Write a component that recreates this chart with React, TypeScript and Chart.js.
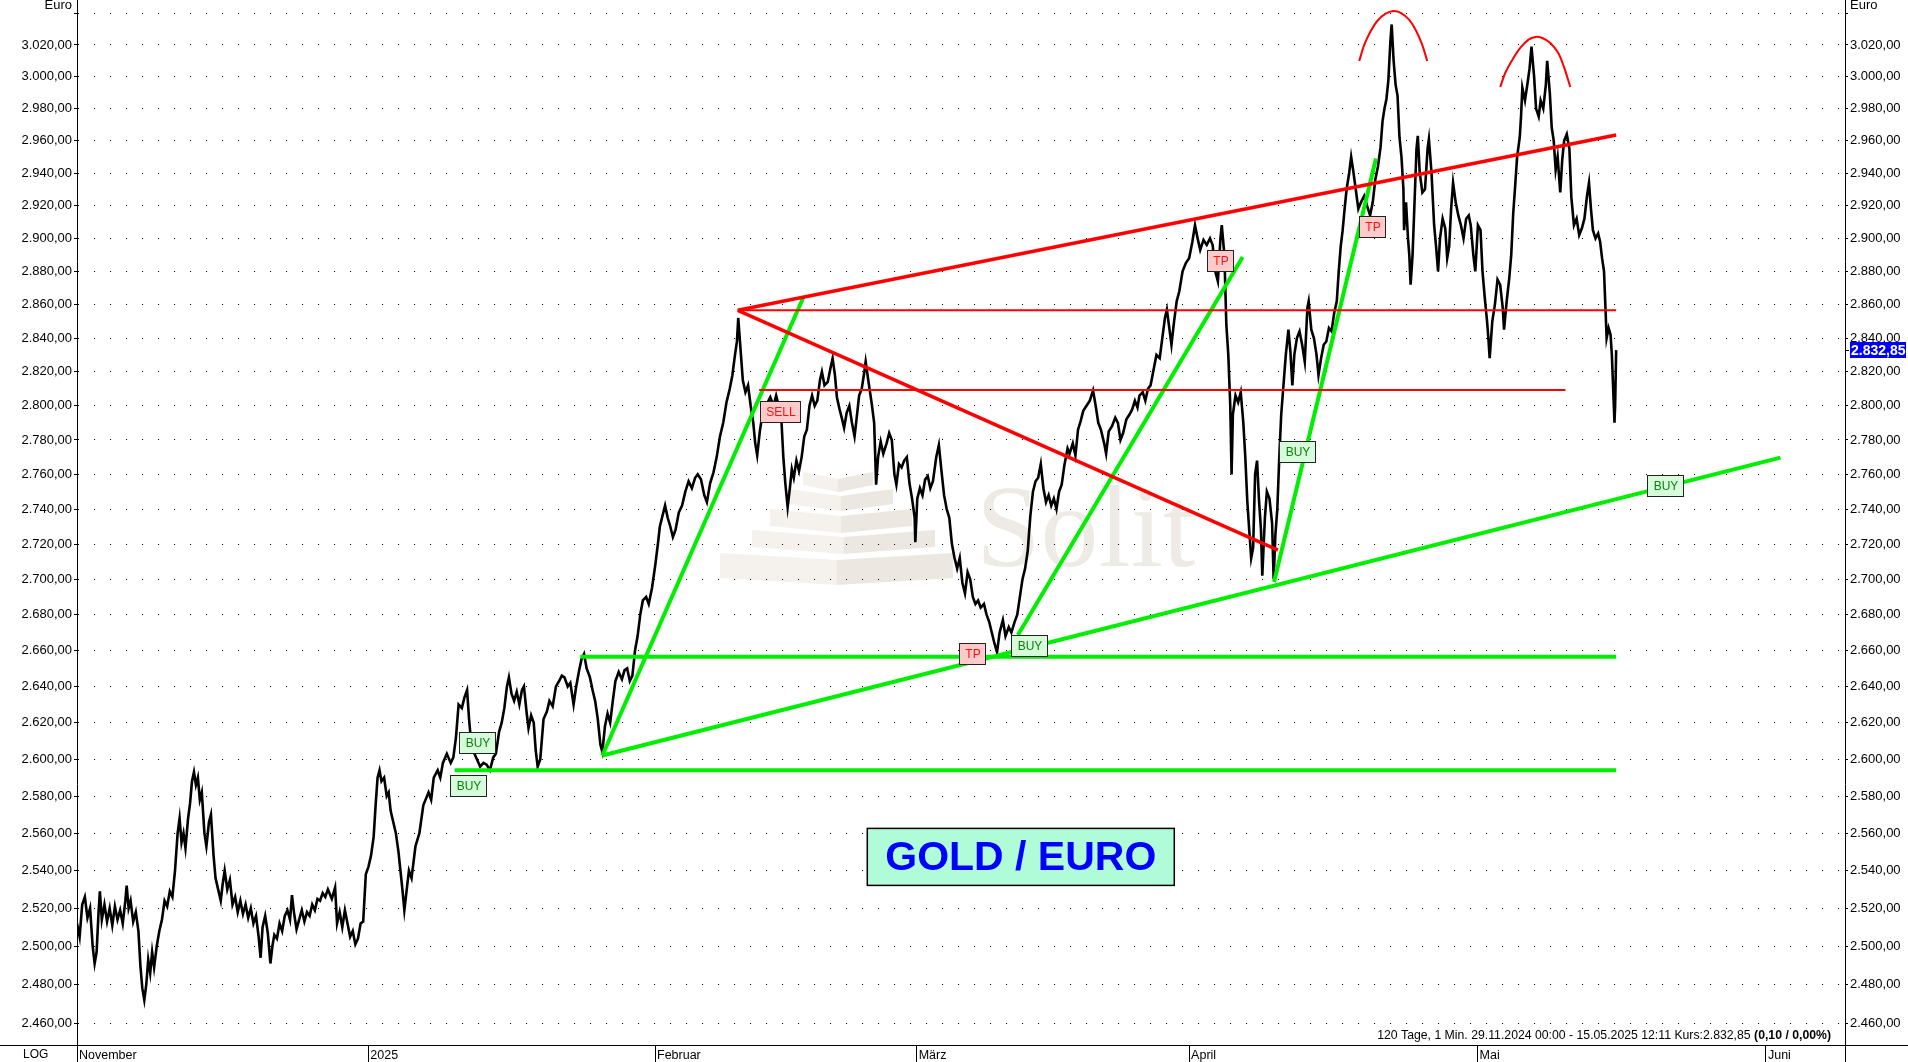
import React, { useEffect, useRef } from 'react';
import { Chart, registerables } from 'chart.js';

Chart.register(...registerables);

// ---------- axis data ----------
const X_MAX = 135.29; // trading days shown (29.11.2024 .. ~10.06.2025)
const Y_MIN = 2448.8;
const Y_MAX = 3048.6;
const monthTickDays = [0, 22.29, 44.23, 64.25, 85.1, 107.17, 129.24, 135.29];
const monthLabels = ['November', '2025', 'Februar', 'März', 'April', 'Mai', 'Juni', ''];
const yTickValues = [2460, 2480, 2500, 2520, 2540, 2560, 2580, 2600, 2620, 2640, 2660, 2680, 2700, 2720, 2740, 2760, 2780, 2800, 2820, 2840, 2860, 2880, 2900, 2920, 2940, 2960, 2980, 3000, 3020, 3040];
const LAST_PRICE = 2832.85;

// ---------- price series: [trading day, price] ----------
const seriesDec = [
  [0.0, 2512], [0.2, 2505], [0.4, 2522], [0.6, 2526], [0.8, 2515], [1.0, 2520], [1.2, 2500], [1.35, 2491], [1.5, 2497], [1.65, 2518],
  [1.75, 2529], [1.9, 2514], [2.1, 2522], [2.3, 2513], [2.5, 2520], [2.7, 2511], [2.9, 2521], [3.1, 2514], [3.3, 2519], [3.5, 2512],
  [3.7, 2524], [3.8, 2532], [3.95, 2520], [4.1, 2524], [4.3, 2513], [4.5, 2518], [4.7, 2508], [4.85, 2490], [5.0, 2478], [5.15, 2472],
  [5.3, 2480], [5.45, 2493], [5.6, 2486], [5.75, 2497], [5.9, 2489], [6.1, 2500], [6.3, 2508], [6.5, 2514], [6.7, 2524], [6.9, 2521],
  [7.1, 2529], [7.3, 2526], [7.5, 2540], [7.7, 2560], [7.85, 2568], [8.0, 2555], [8.15, 2560], [8.3, 2552], [8.5, 2568], [8.65, 2576],
  [8.8, 2588], [8.95, 2593], [9.1, 2586], [9.25, 2590], [9.4, 2578], [9.55, 2582], [9.75, 2560], [9.9, 2553], [10.1, 2566], [10.25, 2570],
  [10.45, 2548], [10.6, 2536], [10.8, 2530], [11.0, 2524], [11.15, 2533], [11.3, 2540], [11.5, 2530], [11.7, 2535], [11.9, 2522], [12.1, 2526],
  [12.3, 2518], [12.5, 2524], [12.7, 2517], [12.9, 2522], [13.1, 2515], [13.3, 2520], [13.5, 2512], [13.7, 2516], [13.9, 2505], [14.05, 2494],
  [14.2, 2510], [14.4, 2516], [14.6, 2507], [14.8, 2491], [14.95, 2500], [15.1, 2506], [15.3, 2504], [15.5, 2512], [15.7, 2508], [15.9, 2516],
  [16.1, 2519], [16.3, 2514], [16.45, 2527], [16.6, 2518], [16.8, 2509], [17.0, 2514], [17.2, 2519], [17.4, 2513], [17.6, 2518], [17.8, 2516],
  [18.0, 2522], [18.2, 2519], [18.4, 2525], [18.6, 2524], [18.8, 2528], [19.0, 2526], [19.2, 2530], [19.5, 2525], [19.75, 2531], [19.9, 2512],
  [20.1, 2518], [20.3, 2510], [20.5, 2519], [20.7, 2512], [20.9, 2505], [21.1, 2508], [21.3, 2501], [21.5, 2504], [21.7, 2512], [21.9, 2513],
  [22.1, 2538],
];
const seriesJan = [
  [22.3, 2542], [22.5, 2548], [22.7, 2558], [22.85, 2575], [23.0, 2590], [23.15, 2594], [23.3, 2588], [23.5, 2590], [23.7, 2580], [23.85, 2582],
  [24.0, 2572], [24.2, 2566], [24.4, 2560], [24.6, 2550], [24.75, 2540], [24.9, 2530], [25.05, 2519], [25.2, 2528], [25.4, 2540], [25.6, 2536],
  [25.9, 2553], [26.2, 2560], [26.5, 2575], [26.9, 2582], [27.1, 2578], [27.3, 2590], [27.6, 2594], [27.8, 2590], [28.0, 2598], [28.3, 2603],
  [28.6, 2598], [28.8, 2601], [29.0, 2612], [29.2, 2630], [29.45, 2628], [29.65, 2634], [29.85, 2638], [30.0, 2622], [30.15, 2610], [30.35, 2604],
  [30.6, 2600], [30.85, 2596], [31.1, 2598], [31.35, 2597], [31.6, 2594], [31.85, 2601], [32.05, 2603], [32.3, 2615], [32.5, 2620], [32.7, 2628],
  [32.9, 2640], [33.05, 2645], [33.25, 2636], [33.45, 2632], [33.65, 2637], [33.85, 2630], [34.05, 2638], [34.2, 2640], [34.4, 2626], [34.55, 2617],
  [34.75, 2624], [34.95, 2620], [35.1, 2605], [35.25, 2596], [35.45, 2600], [35.7, 2622], [35.95, 2626], [36.15, 2632], [36.4, 2629], [36.65, 2640],
  [36.9, 2643], [37.1, 2646], [37.3, 2645], [37.55, 2640], [37.75, 2642], [38.0, 2630], [38.2, 2640], [38.4, 2648], [38.6, 2655], [38.8, 2658],
  [39.0, 2650], [39.25, 2645], [39.45, 2638], [39.65, 2632], [39.85, 2622], [40.05, 2608], [40.2, 2604], [40.4, 2618], [40.6, 2625], [40.8, 2620],
  [41.0, 2632], [41.2, 2643], [41.45, 2648], [41.7, 2644], [41.9, 2649], [42.1, 2650], [42.3, 2643], [42.5, 2646], [42.7, 2660], [42.9, 2668],
  [43.1, 2680], [43.3, 2688], [43.55, 2690], [43.75, 2686], [44.0, 2695],
];
const seriesFeb = [
  [44.25, 2708], [44.45, 2720], [44.6, 2730], [44.8, 2736], [45.0, 2742], [45.2, 2735], [45.4, 2730], [45.6, 2724], [45.8, 2728], [46.05, 2738],
  [46.3, 2742], [46.55, 2750], [46.8, 2756], [47.05, 2752], [47.3, 2758], [47.5, 2760], [47.75, 2757], [48.0, 2748], [48.2, 2744], [48.45, 2755],
  [48.7, 2761], [48.95, 2770], [49.2, 2782], [49.45, 2790], [49.7, 2802], [49.95, 2810], [50.15, 2818], [50.35, 2830], [50.5, 2838], [50.6, 2852],
  [50.75, 2836], [50.95, 2815], [51.15, 2808], [51.35, 2812], [51.55, 2800], [51.75, 2790], [51.9, 2778], [52.05, 2771], [52.25, 2785], [52.45, 2795],
  [52.65, 2792], [52.85, 2802], [53.05, 2805], [53.3, 2800], [53.5, 2806], [53.7, 2800], [53.9, 2792], [54.05, 2770], [54.2, 2755], [54.38, 2741],
  [54.55, 2752], [54.7, 2763], [54.85, 2758], [55.05, 2768], [55.25, 2762], [55.45, 2770], [55.65, 2782], [55.85, 2786], [56.05, 2800], [56.25, 2806],
  [56.45, 2800], [56.65, 2803], [56.85, 2815], [57.0, 2820], [57.2, 2812], [57.45, 2814], [57.65, 2822], [57.82, 2828], [58.0, 2818], [58.15, 2805],
  [58.35, 2798], [58.55, 2792], [58.7, 2787], [58.9, 2796], [59.1, 2800], [59.3, 2790], [59.5, 2782], [59.65, 2792], [59.85, 2806], [60.05, 2810],
  [60.25, 2820], [60.35, 2826], [60.55, 2815], [60.8, 2802], [61.0, 2790], [61.15, 2754], [61.3, 2770], [61.5, 2779], [61.7, 2772], [61.95, 2778],
  [62.15, 2784], [62.35, 2780], [62.55, 2760], [62.7, 2754], [62.9, 2766], [63.1, 2764], [63.3, 2768], [63.5, 2770], [63.7, 2755], [63.9, 2746],
  [64.1, 2735], [64.15, 2721],
];
const seriesMar = [
  [64.3, 2746], [64.5, 2752], [64.7, 2748], [64.9, 2757], [65.1, 2759], [65.3, 2752], [65.5, 2756], [65.75, 2770], [65.95, 2777], [66.15, 2762],
  [66.35, 2748], [66.55, 2740], [66.75, 2735], [66.95, 2720], [67.15, 2712], [67.35, 2706], [67.55, 2712], [67.75, 2698], [67.95, 2692], [68.15, 2704],
  [68.35, 2700], [68.55, 2690], [68.75, 2686], [68.95, 2688], [69.15, 2684], [69.4, 2686], [69.6, 2680], [69.8, 2676], [70.0, 2670], [70.2, 2664],
  [70.4, 2659], [70.6, 2670], [70.85, 2677], [71.05, 2668], [71.3, 2673], [71.5, 2670], [71.75, 2676], [71.95, 2680], [72.15, 2690], [72.35, 2700],
  [72.55, 2706], [72.75, 2716], [72.95, 2736], [73.15, 2750], [73.35, 2756], [73.55, 2758], [73.75, 2766], [73.95, 2752], [74.15, 2744], [74.35, 2748],
  [74.55, 2742], [74.75, 2746], [74.95, 2740], [75.15, 2750], [75.35, 2754], [75.55, 2765], [75.8, 2775], [75.95, 2772], [76.2, 2778], [76.4, 2771],
  [76.6, 2786], [76.8, 2791], [77.0, 2797], [77.25, 2800], [77.5, 2803], [77.75, 2809], [77.95, 2800], [78.15, 2790], [78.35, 2786], [78.6, 2778],
  [78.75, 2772], [78.95, 2785], [79.2, 2788], [79.45, 2793], [79.65, 2790], [79.85, 2780], [80.05, 2784], [80.3, 2792], [80.55, 2795], [80.75, 2798],
  [80.95, 2803], [81.15, 2799], [81.3, 2806], [81.55, 2808], [81.75, 2803], [81.95, 2810], [82.15, 2812], [82.4, 2822], [82.6, 2830], [82.85, 2828],
  [83.05, 2840], [83.25, 2852], [83.4, 2857], [83.6, 2845], [83.75, 2836], [83.95, 2850], [84.15, 2862], [84.35, 2868], [84.6, 2880], [84.85, 2885],
];
const seriesApr = [
  [85.1, 2888], [85.35, 2898], [85.55, 2908], [85.75, 2900], [85.95, 2893], [86.2, 2899], [86.45, 2896], [86.7, 2900], [86.9, 2896], [87.1, 2880],
  [87.3, 2874], [87.5, 2900], [87.6, 2908], [87.8, 2890], [87.95, 2848], [88.1, 2830], [88.25, 2800], [88.35, 2760], [88.45, 2795], [88.65, 2806],
  [88.85, 2802], [89.05, 2808], [89.25, 2790], [89.4, 2770], [89.55, 2745], [89.7, 2728], [89.85, 2712], [90.0, 2718], [90.15, 2760], [90.3, 2768],
  [90.45, 2745], [90.6, 2728], [90.7, 2702], [90.9, 2735], [91.05, 2750], [91.25, 2746], [91.45, 2732], [91.57, 2700], [91.7, 2725], [91.85, 2740],
  [92.0, 2770], [92.15, 2795], [92.3, 2810], [92.5, 2830], [92.7, 2845], [92.85, 2832], [93.0, 2812], [93.15, 2830], [93.35, 2840], [93.55, 2844],
  [93.75, 2836], [93.95, 2826], [94.15, 2858], [94.25, 2862], [94.45, 2845], [94.65, 2840], [94.85, 2830], [95.0, 2818], [95.2, 2828], [95.4, 2836],
  [95.6, 2838], [95.8, 2846], [96.0, 2844], [96.2, 2855], [96.4, 2862], [96.55, 2880], [96.7, 2895], [96.85, 2905], [97.0, 2918], [97.15, 2930],
  [97.35, 2940], [97.5, 2950], [97.65, 2942], [97.85, 2930], [98.05, 2918], [98.25, 2922], [98.5, 2926], [98.75, 2919], [98.95, 2914], [99.15, 2922],
  [99.35, 2936], [99.55, 2944], [99.75, 2956], [99.9, 2972], [100.05, 2980], [100.2, 2986], [100.35, 2998], [100.5, 3022], [100.6, 3033], [100.75, 3010],
  [100.9, 2995], [101.05, 2988], [101.2, 2962], [101.35, 2950], [101.5, 2930], [101.55, 2905], [101.7, 2922], [101.85, 2900], [101.95, 2890], [102.05, 2872],
  [102.2, 2890], [102.35, 2922], [102.5, 2955], [102.6, 2963], [102.75, 2940], [102.95, 2928], [103.15, 2930], [103.35, 2955], [103.45, 2961], [103.65, 2940],
  [103.85, 2908], [104.0, 2895], [104.15, 2880], [104.3, 2900], [104.5, 2912], [104.7, 2906], [104.85, 2888], [105.0, 2895], [105.15, 2918], [105.3, 2934],
  [105.5, 2922], [105.7, 2914], [105.9, 2908], [106.1, 2900], [106.3, 2912], [106.5, 2914], [106.65, 2908], [106.85, 2890], [107.0, 2880],
];
const seriesMay = [
  [107.2, 2908], [107.4, 2905], [107.55, 2880], [107.75, 2862], [107.9, 2850], [108.0, 2840], [108.1, 2828], [108.3, 2850], [108.5, 2860], [108.7, 2875],
  [108.9, 2872], [109.1, 2858], [109.2, 2845], [109.4, 2862], [109.6, 2876], [109.75, 2890], [109.9, 2915], [110.05, 2932], [110.2, 2950], [110.4, 2962],
  [110.5, 2975], [110.6, 2993], [110.8, 2985], [111.0, 2996], [111.15, 3005], [111.3, 3019], [111.5, 3000], [111.65, 2980], [111.85, 2975], [112.0, 2985],
  [112.2, 2980], [112.4, 2995], [112.5, 3010], [112.7, 2990], [112.85, 2968], [113.0, 2960], [113.15, 2942], [113.3, 2950], [113.5, 2928], [113.65, 2948],
  [113.8, 2960], [114.0, 2964], [114.2, 2955], [114.35, 2925], [114.55, 2908], [114.75, 2912], [114.95, 2902], [115.15, 2906], [115.35, 2912], [115.55, 2926],
  [115.7, 2934], [115.85, 2918], [116.0, 2905], [116.2, 2900], [116.4, 2903], [116.55, 2898], [116.7, 2888], [116.85, 2880], [116.95, 2860], [117.05, 2840],
  [117.2, 2846], [117.35, 2842], [117.45, 2830], [117.55, 2810], [117.65, 2790], [117.7, 2800], [117.78, 2832.85],
];

// ---------- drawn trend lines: [day1, price1, day2, price2] ----------
const greenLines = [
  [28.9, 2594, 117.78, 2594],
  [38.51, 2656.4, 117.78, 2656.4],
  [40.2, 2602, 130.35, 2769.7],
  [40.2, 2602, 55.59, 2864.6],
  [72.0, 2668.6, 89.2, 2888.7],
  [91.6, 2698.4, 99.4, 2949],
];
const redTrendLines = [
  [50.56, 2856.6, 117.78, 2963.5],
  [50.56, 2856.6, 91.9, 2716.5],
];
const redLevels = [
  [50.56, 2856.6, 117.78, 2856.6],
  [52.2, 2809.3, 113.9, 2809.3],
];
const topArc1 = [
  [98.12, 3009.9], [98.5, 3020], [98.96, 3028.2], [99.5, 3035.2], [100.11, 3039.7], [100.72, 3041.6],
  [101.33, 3040.3], [101.95, 3035.9], [102.48, 3028.9], [102.94, 3020], [103.32, 3009.9],
];
const topArc2 = [
  [108.91, 2993.5], [109.29, 3002.3], [109.83, 3010.5], [110.44, 3018.1], [111.05, 3023.2], [111.59, 3025.1],
  [112.12, 3024.4], [112.74, 3021.3], [113.35, 3014.9], [113.81, 3005.5], [114.27, 2993.5],
];

// ---------- signal labels ----------
const signalDay = [30.69, 30.01, 53.89, 68.55, 72.95, 87.56, 93.45, 99.16, 121.6];
const signalPrice = [2609.1, 2585.4, 2796.3, 2658.0, 2662.4, 2886.3, 2773.0, 2906.9, 2753.2];
const signalText = ['BUY', 'BUY', 'SELL', 'TP', 'BUY', 'TP', 'BUY', 'TP', 'BUY'];

const titleText = 'GOLD / EURO';
const titleDay = 72.22;
const titlePrice = 2547.3;
const footerNormal = '120 Tage, 1 Min. 29.11.2024 00:00 - 15.05.2025 12:11 Kurs:2.832,85 ';
const footerBold = '(0,10 / 0,00%)';

const FONT = '"Liberation Sans", Arial, Helvetica, sans-serif';
const GREEN = '#00ee00';
const RED = '#ff0000';

function fmtDe(v: number): string {
  const s = v.toFixed(2);
  const [i, d] = s.split('.');
  const withDots = i.replace(/\B(?=(\d{3})+(?!\d))/g, '.');
  return withDots + ',' + d;
}

const overlayPlugin = {
  id: 'overlay',
  beforeDraw(chart: any) {
    const ctx = chart.ctx;
    const ca = chart.chartArea;
    const ox = ca.left - 77;
    const oy = ca.top;
    ctx.save();
    // watermark pyramid (Solit logo)
    const slabs = [
      [803, 873, 472, 485],
      [788, 893, 489, 504],
      [770, 912, 509, 526],
      [752, 935, 530, 547],
      [720, 953, 553, 578],
    ];
    for (const [l, r, t, b] of slabs) {
      const c = (l + r) / 2;
      const d = 7;
      ctx.fillStyle = '#f5f2ee';
      ctx.beginPath();
      ctx.moveTo(ox + l, oy + t);
      ctx.lineTo(ox + c, oy + t + d);
      ctx.lineTo(ox + c, oy + b + d);
      ctx.lineTo(ox + l, oy + b);
      ctx.closePath();
      ctx.fill();
      ctx.fillStyle = '#ece8e1';
      ctx.beginPath();
      ctx.moveTo(ox + c, oy + t + d);
      ctx.lineTo(ox + r, oy + t);
      ctx.lineTo(ox + r, oy + b);
      ctx.lineTo(ox + c, oy + b + d);
      ctx.closePath();
      ctx.fill();
    }
    ctx.fillStyle = '#eeebe4';
    ctx.font = '116px "Liberation Serif", "Times New Roman", serif';
    ctx.textAlign = 'left';
    ctx.textBaseline = 'alphabetic';
    ctx.fillText('Solit', ox + 976, oy + 566);
    ctx.restore();
  },
  afterDatasetsDraw(chart: any) {
    const ctx = chart.ctx;
    const xs = chart.scales.x;
    const ys = chart.scales.y;
    ctx.save();
    // signal boxes
    ctx.font = '12px ' + FONT;
    ctx.textBaseline = 'middle';
    ctx.textAlign = 'center';
    for (let i = 0; i < signalText.length; i++) {
      const t = signalText[i];
      const px = Math.round(xs.getPixelForValue(signalDay[i]));
      const py = Math.round(ys.getPixelForValue(signalPrice[i]));
      const w = Math.round(ctx.measureText(t).width + 12);
      const h = 22;
      const x0 = px - Math.round(w / 2);
      const y0 = py - h / 2;
      const buy = t === 'BUY';
      ctx.fillStyle = buy ? '#d6fcdc' : '#ffcaca';
      ctx.fillRect(x0, y0, w, h);
      ctx.strokeStyle = '#222';
      ctx.lineWidth = 1;
      ctx.strokeRect(x0 + 0.5, y0 + 0.5, w - 1, h - 1);
      ctx.fillStyle = buy ? '#0a800a' : '#ff1010';
      ctx.fillText(t, px, py + 1);
    }
    // title box
    const tx = xs.getPixelForValue(titleDay);
    const ty = ys.getPixelForValue(titlePrice);
    const tw = 307;
    const th = 57;
    ctx.fillStyle = '#b0fcd8';
    ctx.fillRect(tx - tw / 2, ty - th / 2, tw, th);
    ctx.strokeStyle = '#000';
    ctx.lineWidth = 1.5;
    ctx.strokeRect(tx - tw / 2, ty - th / 2, tw, th);
    ctx.fillStyle = '#0000ff';
    ctx.font = 'bold 41px ' + FONT;
    ctx.fillText(titleText, tx, ty + 2);
    ctx.restore();
  },
  afterDraw(chart: any) {
    const ctx = chart.ctx;
    const ca = chart.chartArea;
    const y2 = chart.scales.y2;
    ctx.save();
    // full-width bottom rule
    ctx.strokeStyle = '#000';
    ctx.lineWidth = 1;
    ctx.beginPath();
    ctx.moveTo(0, Math.round(ca.bottom) + 0.5);
    ctx.lineTo(chart.width, Math.round(ca.bottom) + 0.5);
    ctx.stroke();
    // LOG label
    ctx.fillStyle = '#000';
    ctx.font = '12px ' + FONT;
    ctx.textAlign = 'left';
    ctx.textBaseline = 'middle';
    ctx.fillText('LOG', 23, ca.bottom + 10);
    // footer info text
    ctx.textAlign = 'right';
    ctx.font = 'bold 12.25px ' + FONT;
    const bw = ctx.measureText(footerBold).width;
    const fx = ca.right - 14;
    const fy = ca.bottom - 9;
    ctx.fillText(footerBold, fx, fy);
    ctx.font = '12.25px ' + FONT;
    ctx.fillText(footerNormal, fx - bw, fy);
    // last price tag
    const py = Math.round(y2.getPixelForValue(LAST_PRICE));
    ctx.beginPath();
    ctx.moveTo(ca.right, py + 0.5);
    ctx.lineTo(ca.right + 4, py + 0.5);
    ctx.stroke();
    ctx.fillStyle = '#0000ff';
    ctx.fillRect(ca.right + 5, py - 8, 56, 16);
    ctx.fillStyle = '#ffffff';
    ctx.font = 'bold 14px ' + FONT;
    ctx.textAlign = 'left';
    ctx.fillText(fmtDe(LAST_PRICE), ca.right + 6, py + 1);
    ctx.restore();
  },
};

export default function App() {
  const ref = useRef<HTMLCanvasElement>(null);
  useEffect(() => {
    document.body.style.margin = '0';
    const canvas = ref.current;
    if (!canvas) return;
    const allSeries = [...seriesDec, ...seriesJan, ...seriesFeb, ...seriesMar, ...seriesApr, ...seriesMay];
    const priceData = allSeries.map(([x, y]) => ({ x, y }));
    const datasets: any[] = [];
    datasets.push({
      label: 'Gold/EUR',
      data: priceData,
      borderColor: '#000',
      borderWidth: 2.6,
      pointRadius: 0,
      tension: 0,
      order: 10,
    });
    const seg = (l: number[]) => [{ x: l[0], y: l[1] }, { x: l[2], y: l[3] }];
    greenLines.forEach((l) => datasets.push({ data: seg(l), borderColor: GREEN, borderWidth: 4, pointRadius: 0, order: 2 }));
    redTrendLines.forEach((l) => datasets.push({ data: seg(l), borderColor: RED, borderWidth: 3.5, pointRadius: 0, order: 1 }));
    redLevels.forEach((l) => datasets.push({ data: seg(l), borderColor: RED, borderWidth: 2, pointRadius: 0, order: 1 }));
    [topArc1, topArc2].forEach((a) =>
      datasets.push({ data: a.map(([x, y]) => ({ x, y })), borderColor: RED, borderWidth: 2, pointRadius: 0, tension: 0.3, order: 1, clip: false })
    );

    const tickFont = { family: FONT, size: 13 };
    const chart = new Chart(canvas, {
      type: 'line',
      data: { datasets },
      plugins: [overlayPlugin],
      options: {
        animation: false,
        responsive: false,
        maintainAspectRatio: false,
        devicePixelRatio: 1,
        layout: { padding: 0 },
        plugins: { legend: { display: false }, tooltip: { enabled: false } },
        events: [],
        scales: {
          x: {
            type: 'linear',
            position: 'bottom',
            min: 0,
            max: X_MAX,
            afterBuildTicks: (s: any) => {
              s.ticks = monthTickDays.map((v) => ({ value: v }));
            },
            afterFit: (s: any) => {
              s.height = 17;
              s.paddingLeft = 0;
              s.paddingRight = 0;
            },
            ticks: {
              autoSkip: false,
              maxRotation: 0,
              minRotation: 0,
              align: 'start',
              labelOffset: 2,
              padding: -14,
              color: '#000',
              font: { family: FONT, size: 12.5 },
              callback: (_v: any, i: number) => monthLabels[i],
            },
            grid: { drawOnChartArea: false, drawTicks: true, tickLength: 17, color: '#000', lineWidth: 1 },
            border: { color: '#000', width: 1 },
          },
          y: {
            type: 'logarithmic',
            position: 'left',
            min: Y_MIN,
            max: Y_MAX,
            afterBuildTicks: (s: any) => {
              s.ticks = yTickValues.map((v) => ({ value: v }));
            },
            afterFit: (s: any) => {
              s.width = 77;
              s.paddingTop = 0;
              s.paddingBottom = 0;
            },
            ticks: {
              autoSkip: false,
              padding: 2,
              color: '#000',
              font: tickFont,
              callback: (v: any) => (Number(v) === 3040 ? ['Euro', ''] : fmtDe(Number(v))),
            },
            grid: { color: '#000', lineWidth: 1, tickLength: 3, drawTicks: true, tickColor: '#000' },
            border: { color: '#000', width: 1, dash: [1, 15] },
          },
          y2: {
            type: 'logarithmic',
            position: 'right',
            min: Y_MIN,
            max: Y_MAX,
            afterBuildTicks: (s: any) => {
              s.ticks = yTickValues.map((v) => ({ value: v }));
            },
            afterFit: (s: any) => {
              s.width = 63;
              s.paddingTop = 0;
              s.paddingBottom = 0;
            },
            ticks: {
              autoSkip: false,
              padding: 2,
              color: '#000',
              font: tickFont,
              callback: (v: any) => (Number(v) === 3040 ? ['Euro', ''] : fmtDe(Number(v))),
            },
            grid: { drawOnChartArea: false, tickLength: 3, drawTicks: true, color: '#000' },
            border: { color: '#000', width: 1 },
          },
        },
      } as any,
    });
    return () => chart.destroy();
  }, []);
  return <canvas ref={ref} width={1908} height={1062} style={{ display: 'block', width: '1908px', height: '1062px' }} />;
}
